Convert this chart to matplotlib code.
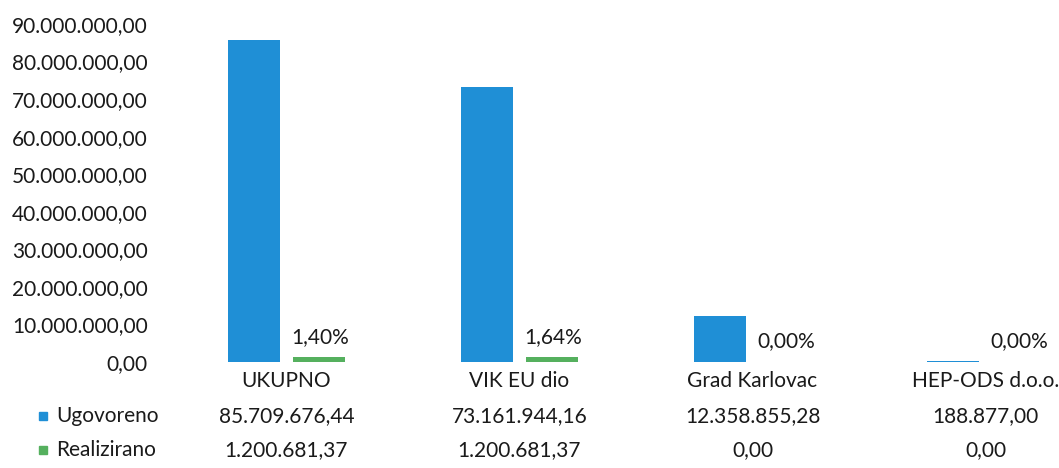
import matplotlib
matplotlib.use("Agg")
import matplotlib.pyplot as plt
from matplotlib.patches import Rectangle
from matplotlib.ticker import FuncFormatter
import numpy as np

plt.rcParams['font.family'] = ['Lato', 'DejaVu Sans']

categories = ['UKUPNO', 'VIK EU dio', 'Grad Karlovac', 'HEP-ODS d.o.o.']
ugovoreno = [85709676.44, 73161944.16, 12358855.28, 188877.00]
realizirano = [1200681.37, 1200681.37, 0.00, 0.00]
series_names = ['Ugovoreno', 'Realizirano']

BLUE = '#1f8fd6'
GREEN = '#55b05e'
TXT = '#1a1a1a'
FS = 15


def hr(v, dec=2):
    # 85.709.676,44 style
    s = f"{v:,.{dec}f}"
    return s.replace(',', 'X').replace('.', ',').replace('X', '.')


W, H = 1059, 468
fig = plt.figure(figsize=(W / 100, H / 100), dpi=100)
ax = fig.add_axes([170 / W, 106 / H, 932 / W, 338 / H])

x = np.arange(len(categories))
bw = 0.22
ax.bar(x - 0.14, ugovoreno, width=bw, color=BLUE)
ax.bar(x + 0.14, realizirano, width=bw, color=GREEN)

for xi, u, r in zip(x, ugovoreno, realizirano):
    pct = r / u * 100 if u else 0
    ax.annotate(hr(pct) + '%', (xi + 0.14, r), xytext=(1, 15),
                textcoords='offset points', ha='center', va='center',
                fontsize=FS, color=TXT)

ax.set_xlim(-0.5, 3.5)
ax.set_ylim(0, 90e6)
ax.set_yticks(np.arange(0, 90e6 + 1, 10e6))
ax.yaxis.set_major_formatter(FuncFormatter(lambda v, p: hr(v)))
ax.tick_params(axis='y', length=0, pad=16, labelsize=FS, labelcolor=TXT)
ax.set_xticks([])
for sp in ax.spines.values():
    sp.set_visible(False)

# category labels and data table under the plot
for xi, cat, u, r in zip(x, categories, ugovoreno, realizirano):
    ax.text(xi, -19 / 338, cat, transform=ax.get_xaxis_transform(),
            ha='center', va='center', fontsize=FS, color=TXT)
    ax.text(xi, -54 / 338, hr(u), transform=ax.get_xaxis_transform(),
            ha='center', va='center', fontsize=FS, color=TXT)
    ax.text(xi, -88 / 338, hr(r), transform=ax.get_xaxis_transform(),
            ha='center', va='center', fontsize=FS, color=TXT)

for name, col, yc in zip(series_names, [BLUE, GREEN], [416, 450]):
    fig.patches.append(Rectangle((39 / W, (H - yc - 4) / H), 8 / W, 8 / H,
                                 transform=fig.transFigure, color=col))
    fig.text(56 / W, (H - yc) / H, name, ha='left', va='center',
             fontsize=FS, color=TXT)

fig.savefig('out.png', dpi=100)
